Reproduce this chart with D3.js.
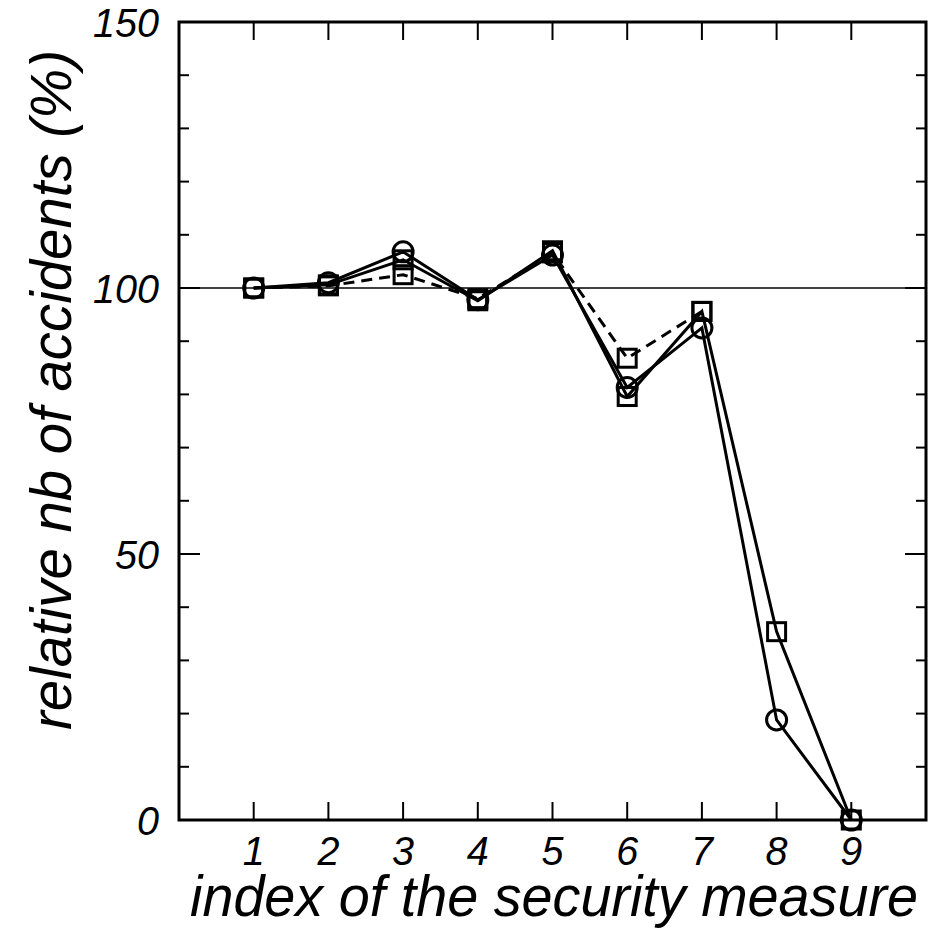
<!DOCTYPE html>
<html>
<head>
<meta charset="utf-8">
<script src="https://cdn.jsdelivr.net/npm/d3@7"></script>
<style>
  body { margin: 0; background: #fff; }
  text { font-family: "Liberation Sans", Arial, sans-serif; font-style: italic; }
</style>
</head>
<body>
<div id="chart"></div>
<script>
// measure index on the x axis
const measures = [1, 2, 3, 4, 5, 6, 7, 8, 9];

// relative number of accidents (%)
const circleSolid = [100, 101, 106.8, 97.8, 106.2, 81.3, 92.5, 18.8, 0];
const squareSolid = [100, 100.6, 105.3, 97.6, 107, 79.6, 95.6, 35.4, 0];
const squareDashed = [100, 100.4, 102.5, 98, 106.6, 86.8, 95.6];

const yTicks = d3.range(0, 151, 10);
const yLabels = [0, 50, 100, 150];

const width = 930, height = 936;
const margin = { top: 22, right: 4, bottom: 116, left: 179 };
const innerW = width - margin.left - margin.right;
const innerH = height - margin.top - margin.bottom;

const svg = d3.select('#chart').append('svg')
    .attr('width', width)
    .attr('height', height);

const g = svg.append('g')
    .attr('transform', `translate(${margin.left},${margin.top})`);

const x = d3.scaleLinear().domain([0, 10]).range([0, innerW]);
const y = d3.scaleLinear().domain([0, 150]).range([innerH, 0]);

// reference line at 100 %
g.append('line')
    .attr('x1', 0).attr('x2', innerW)
    .attr('y1', y(100)).attr('y2', y(100))
    .attr('stroke', '#000')
    .attr('stroke-width', 1.5);

// ticks, all pointing inward, on both sides
yTicks.forEach(t => {
    const len = yLabels.includes(t) ? 21 : 10;
    g.append('line').attr('x1', 0).attr('x2', len)
        .attr('y1', y(t)).attr('y2', y(t))
        .attr('stroke', '#000').attr('stroke-width', 2);
    g.append('line').attr('x1', innerW).attr('x2', innerW - len)
        .attr('y1', y(t)).attr('y2', y(t))
        .attr('stroke', '#000').attr('stroke-width', 2);
});
measures.forEach(m => {
    g.append('line').attr('x1', x(m)).attr('x2', x(m))
        .attr('y1', innerH).attr('y2', innerH - 18)
        .attr('stroke', '#000').attr('stroke-width', 2);
    g.append('line').attr('x1', x(m)).attr('x2', x(m))
        .attr('y1', 0).attr('y2', 18)
        .attr('stroke', '#000').attr('stroke-width', 2);
});

// tick labels (slightly condensed, like the original)
yLabels.forEach(t => {
    g.append('text')
        .attr('x', -20)
        .attr('y', y(t))
        .attr('dy', '0.36em')
        .attr('text-anchor', 'end')
        .attr('font-size', '41px')
        .attr('textLength', String(t).length * 22)
        .attr('lengthAdjust', 'spacingAndGlyphs')
        .text(t);
});
measures.forEach(m => {
    g.append('text')
        .attr('x', x(m))
        .attr('y', innerH + 45)
        .attr('text-anchor', 'middle')
        .attr('font-size', '41px')
        .attr('textLength', 22)
        .attr('lengthAdjust', 'spacingAndGlyphs')
        .text(m);
});

// frame
g.append('rect')
    .attr('width', innerW)
    .attr('height', innerH)
    .attr('fill', 'none')
    .attr('stroke', '#000')
    .attr('stroke-width', 3);

// series
const line = d3.line()
    .x((d, i) => x(measures[i]))
    .y(d => y(d));

function drawSeries(values, marker, dashed) {
    g.append('path')
        .datum(values)
        .attr('d', line)
        .attr('fill', 'none')
        .attr('stroke', '#000')
        .attr('stroke-width', 3)
        .attr('stroke-dasharray', dashed ? '11,7' : null);

    values.forEach((v, i) => {
        if (marker === 'circle') {
            g.append('circle')
                .attr('cx', x(measures[i]))
                .attr('cy', y(v))
                .attr('r', 10)
                .attr('fill', 'none')
                .attr('stroke', '#000')
                .attr('stroke-width', 3);
        } else {
            g.append('rect')
                .attr('x', x(measures[i]) - 9)
                .attr('y', y(v) - 9)
                .attr('width', 18)
                .attr('height', 18)
                .attr('fill', 'none')
                .attr('stroke', '#000')
                .attr('stroke-width', 3);
        }
    });
}

drawSeries(squareDashed, 'square', true);
drawSeries(squareSolid, 'square', false);
drawSeries(circleSolid, 'circle', false);

// axis titles
svg.append('text')
    .attr('x', 554)
    .attr('y', 916)
    .attr('text-anchor', 'middle')
    .attr('font-size', '58px')
    .attr('textLength', 728)
    .attr('lengthAdjust', 'spacingAndGlyphs')
    .text('index of the security measure');

svg.append('text')
    .attr('transform', 'translate(71,390) rotate(-90)')
    .attr('text-anchor', 'middle')
    .attr('font-size', '58px')
    .attr('textLength', 680)
    .attr('lengthAdjust', 'spacingAndGlyphs')
    .text('relative nb of accidents (%)');
</script>
</body>
</html>
